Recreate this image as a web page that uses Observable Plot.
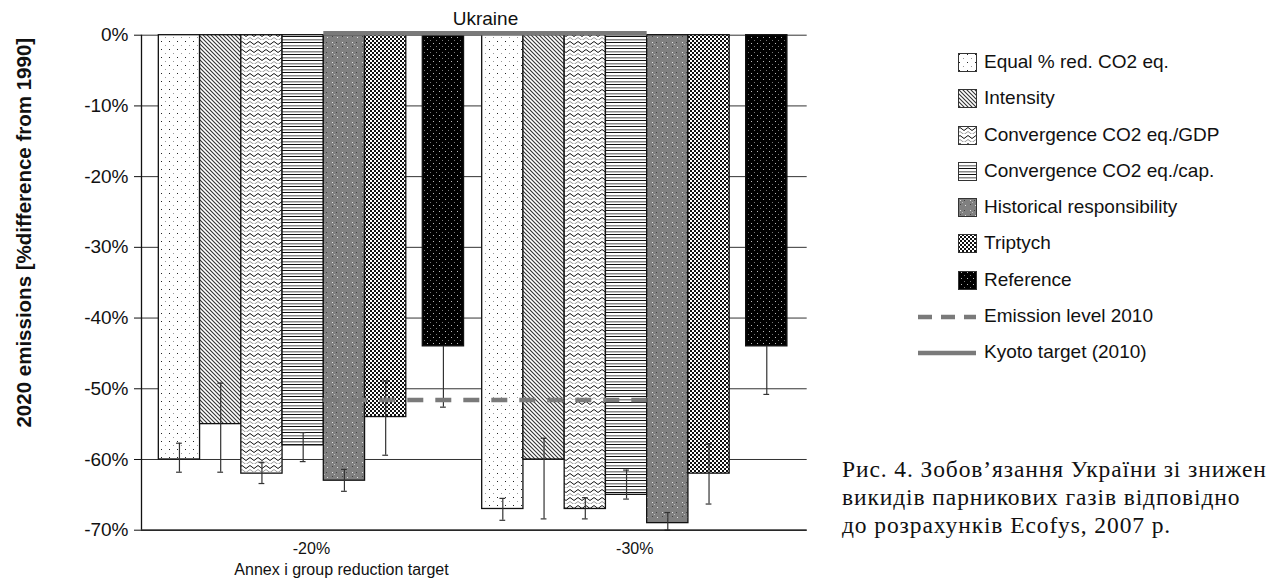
<!DOCTYPE html>
<html><head><meta charset="utf-8">
<script src="https://cdn.jsdelivr.net/npm/d3@7"></script>
<script src="https://cdn.jsdelivr.net/npm/@observablehq/plot@0.6"></script>
<style>
html,body{margin:0;padding:0;background:#fff;}
body{width:1283px;height:587px;overflow:hidden;position:relative;font-family:"Liberation Sans",Arial,sans-serif;}
#chart{position:absolute;left:0;top:0;}
.row{position:absolute;left:0;height:24px;width:380px;}
.row svg{position:absolute;left:918px;top:3px;}
.row span{position:absolute;left:984px;top:1px;font-size:19px;color:#111;white-space:nowrap;line-height:22px;}
.caption{position:absolute;left:842px;top:455px;font-family:"Liberation Serif","DejaVu Serif",serif;font-size:23.5px;letter-spacing:0.9px;line-height:28px;white-space:nowrap;color:#111;}
</style></head><body>
<svg width="0" height="0" style="position:absolute">
<defs>
<pattern id="pEqual" patternUnits="userSpaceOnUse" width="8" height="8">
  <rect width="8" height="8" fill="#fff"/>
  <rect x="1" y="1" width="1" height="1" fill="#222"/>
  <rect x="5" y="5" width="1" height="1" fill="#999"/>
</pattern>
<pattern id="pIntensity" patternUnits="userSpaceOnUse" width="4" height="4">
  <rect width="4" height="4" fill="#fff"/>
  <path d="M-1,-1 L5,5 M-1,3 L1,5 M3,-1 L5,1" stroke="#333" stroke-width="1.1"/>
</pattern>
<pattern id="pGDP" patternUnits="userSpaceOnUse" width="8" height="8">
  <rect width="8" height="8" fill="#fff"/>
  <path d="M0,3 Q2,0 4,3 T8,3" fill="none" stroke="#111" stroke-width="1"/>
  <path d="M0,7 Q2,4 4,7 T8,7" fill="none" stroke="#999" stroke-width="1"/>
</pattern>
<pattern id="pCap" patternUnits="userSpaceOnUse" width="6" height="6">
  <rect width="6" height="6" fill="#fff"/>
  <rect y="0" width="6" height="1" fill="#111"/>
  <rect y="3" width="6" height="1.5" fill="#888"/>
</pattern>
<pattern id="pHist" patternUnits="userSpaceOnUse" width="10" height="10">
  <rect width="10" height="10" fill="#808080"/>
  <rect x="2" y="2" width="1" height="1" fill="#e0e0e0"/>
  <rect x="7" y="7" width="1" height="1" fill="#e0e0e0"/>
  <rect x="6" y="2" width="1" height="1" fill="#444"/>
  <rect x="2" y="6" width="1" height="1" fill="#444"/>
  <rect x="4" y="4" width="1" height="1" fill="#bbb"/>
</pattern>
<pattern id="pTrip" patternUnits="userSpaceOnUse" width="4" height="4">
  <rect width="4" height="4" fill="#fff"/>
  <rect x="0" y="0" width="2" height="2" fill="#111"/>
  <rect x="2" y="2" width="2" height="2" fill="#111"/>
</pattern>
<pattern id="pRef" patternUnits="userSpaceOnUse" width="6" height="6">
  <rect width="6" height="6" fill="#000"/>
  <rect x="1" y="1" width="1" height="1" fill="#bbb"/>
  <rect x="4" y="4" width="1" height="1" fill="#777"/>
</pattern>
</defs>
</svg>
<div id="chart"></div>
<div id="legend"></div>
<div class="caption">Рис. 4. Зобов’язання України зі знижен<br>викидів парникових газів відповідно<br>до розрахунків Ecofys, 2007 р.</div>
<script>
// ---- data ----
const groups = ["-20%", "-30%"];
const methods = ["Equal % red. CO2 eq.", "Intensity", "Convergence CO2 eq./GDP", "Convergence CO2 eq./cap.", "Historical responsibility", "Triptych", "Reference"];
const values20 = [-60, -55, -62, -58, -63, -54, -44];
const values30 = [-67, -60, -67, -65, -69, -62, -44];
const errHigh20 = [-57.7, -49.2, -60.4, -56.2, -61.4, -48.9, -44];
const errLow20  = [-61.8, -61.8, -63.4, -60.3, -64.5, -59.4, -52.6];
const errHigh30 = [-65.5, -57.0, -65.4, -61.5, -67.5, -57.8, -44];
const errLow30  = [-68.6, -68.4, -68.4, -65.6, -70.0, -66.3, -50.8];
const emissionLevel2010 = -51.6;
const kyotoTarget2010 = 0;
const yTicks = [0, -10, -20, -30, -40, -50, -60, -70];
const lineSeries = ["Emission level 2010", "Kyoto target (2010)"];
const regionLabel = "Ukraine";
const yTitle = "2020 emissions [%difference from 1990]";
const xTitle = "Annex i group reduction target";

// ---- styles / layout ----
const patterns = ["pEqual", "pIntensity", "pGDP", "pCap", "pHist", "pTrip", "pRef"];
const LEAD = 0.42, STEP = 7.84, REF_GAP = 0.4, XMAX = 16.14;
const slot = mi => mi < methods.length - 1 ? mi : mi + REF_GAP;
const vals = [values20, values30], his = [errHigh20, errHigh30], los = [errLow20, errLow30];
const rows = groups.flatMap((g, gi) => methods.map((m, mi) => ({group: g, gi, method: m, mi, value: vals[gi][mi], hi: his[gi][mi], lo: los[gi][mi]})));
const bx1 = d => LEAD + d.gi * STEP + slot(d.mi);
const centers = groups.map((g, gi) => LEAD + gi * STEP + (slot(methods.length - 1) + 1) / 2);
const spanMethod = methods.indexOf("Historical responsibility");
const lineX1 = LEAD + slot(spanMethod);
const lineX2 = LEAD + STEP + slot(spanMethod);
const capW = 0.07;
const caps = rows.flatMap(d => [{...d, y: d.lo}].concat(d.hi !== d.value ? [{...d, y: d.hi}] : []));

const chart = Plot.plot({
  width: 820, height: 587,
  marginLeft: 141, marginRight: 13.3, marginTop: 34.7, marginBottom: 57.3,
  x: {domain: [0, XMAX], axis: null},
  y: {domain: [-70, 0], axis: null},
  color: {type: "identity"},
  style: {fontFamily: "'Liberation Sans', Arial, sans-serif", fontSize: "16px", color: "#111", background: "white", overflow: "visible"},
  marks: [
    Plot.ruleY(yTicks, {stroke: "#333", strokeWidth: 1}),
    Plot.rect(rows, {x1: bx1, x2: d => bx1(d) + 1, y1: 0, y2: "value", fill: d => `url(#${patterns[d.mi]})`, stroke: "#111", strokeWidth: 1.3}),
    Plot.ruleX(rows, {x: d => bx1(d) + 0.5, y1: "lo", y2: "hi", stroke: "#333", strokeWidth: 1.2}),
    Plot.ruleY(caps, {y: "y", x1: d => bx1(d) + 0.5 - capW, x2: d => bx1(d) + 0.5 + capW, stroke: "#333", strokeWidth: 1.2}),
    Plot.ruleY([emissionLevel2010], {y: d => d, x1: lineX1, x2: lineX2, stroke: "#7a7a7a", strokeWidth: 4.5, strokeDasharray: "16,12"}),
    Plot.ruleY([kyotoTarget2010], {y: d => d, x1: lineX1, x2: lineX2, stroke: "#7a7a7a", strokeWidth: 4.5, dy: -2}),
    Plot.ruleX([0], {stroke: "#111", strokeWidth: 1.3}),
    Plot.ruleY([-70], {stroke: "#111", strokeWidth: 1.3}),
    Plot.axisY(yTicks, {tickSize: 7, tickPadding: 6, tickFormat: d => d + "%", fontSize: 19, stroke: "#111", label: null}),
    Plot.axisX(centers, {tickSize: 0, tickPadding: 12, tickFormat: d => groups[centers.indexOf(d)], fontSize: 16, label: null}),
    Plot.text([regionLabel], {x: () => (lineX1 + lineX2) / 2, y: () => kyotoTarget2010, dy: -16, fontSize: 19, fill: "#111"}),
    Plot.text([yTitle], {frameAnchor: "left", textAnchor: "middle", lineAnchor: "middle", rotate: -90, dx: -117, dy: -50, fontWeight: "bold", fontSize: 20.5, fill: "#111"}),
    Plot.text([xTitle], {frameAnchor: "bottom-left", textAnchor: "middle", lineAnchor: "middle", dx: 200, dy: 40, fontSize: 16, fill: "#111"})
  ]
});
document.getElementById("chart").append(chart);

// ---- legend ----
const legend = document.getElementById("legend");
const legItems = methods.map((m, i) => ({label: m, kind: "box", pat: patterns[i]}))
  .concat([{label: lineSeries[0], kind: "dash"}, {label: lineSeries[1], kind: "line"}]);
const ns = "http://www.w3.org/2000/svg";
legItems.forEach((it, i) => {
  const row = document.createElement("div");
  row.className = "row";
  row.style.top = (50 + i * 36.25) + "px";
  const s = document.createElementNS(ns, "svg");
  s.setAttribute("width", 60); s.setAttribute("height", 20);
  if (it.kind === "box") {
    const r = document.createElementNS(ns, "rect");
    r.setAttribute("x", 40.5); r.setAttribute("y", 0.5); r.setAttribute("width", 18); r.setAttribute("height", 18);
    r.setAttribute("fill", `url(#${it.pat})`); r.setAttribute("stroke", "#333"); r.setAttribute("stroke-width", 1);
    s.append(r);
  } else {
    const l = document.createElementNS(ns, "line");
    l.setAttribute("x1", 0); l.setAttribute("x2", 58); l.setAttribute("y1", 10); l.setAttribute("y2", 10);
    l.setAttribute("stroke", "#7a7a7a"); l.setAttribute("stroke-width", 4.5);
    if (it.kind === "dash") l.setAttribute("stroke-dasharray", "14,9");
    s.append(l);
  }
  const t = document.createElement("span");
  t.textContent = it.label;
  row.append(s, t);
  legend.append(row);
});
</script>
</body></html>
